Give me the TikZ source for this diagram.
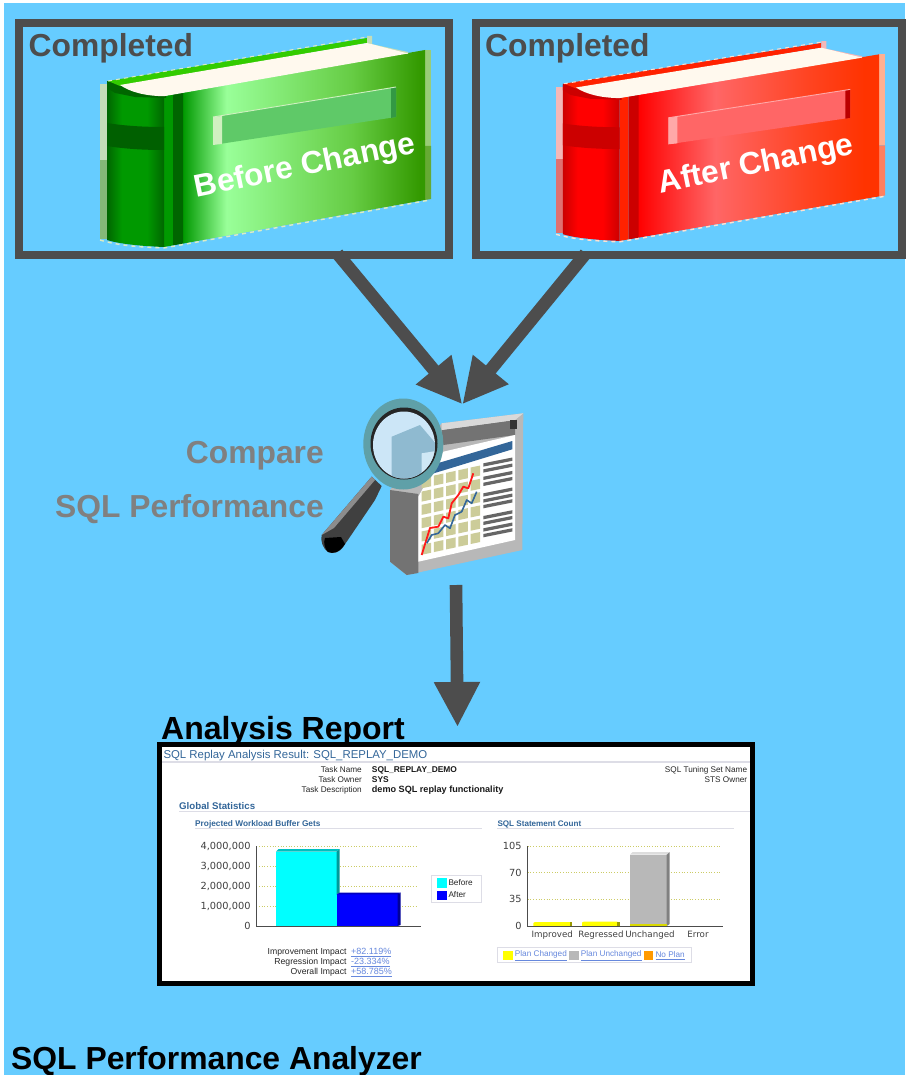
\documentclass[tikz,border=0pt]{standalone}
\usepackage{fontspec}
\setmainfont{Liberation Sans}
\newfontfamily\dejavu{DejaVu Sans}
\usetikzlibrary{arrows.meta,calc}
\definecolor{bgblue}{HTML}{66CCFF}
\definecolor{framegrey}{HTML}{4D4D4D}
\definecolor{labelgrey}{HTML}{808080}
\definecolor{oratitle}{HTML}{336699}
\definecolor{orarule}{HTML}{DDDDE6}
\definecolor{oralink}{HTML}{6688DD}
\definecolor{gridyel}{HTML}{CCCC66}
\definecolor{barCyan}{HTML}{00FFFF}\definecolor{barCyanT}{HTML}{00BFBF}\definecolor{barCyanS}{HTML}{009999}
\definecolor{barBlue}{HTML}{0000FF}\definecolor{barBlueT}{HTML}{0000BF}\definecolor{barBlueS}{HTML}{000099}
\definecolor{barYel}{HTML}{FFFF00}\definecolor{barYelS}{HTML}{999900}\definecolor{barOra}{HTML}{FF9900}
\definecolor{barGrey}{HTML}{B8B8B8}\definecolor{barGreyT}{HTML}{DDDDDD}\definecolor{barGreyS}{HTML}{808080}
\definecolor{paper}{HTML}{FFF9EE}
\definecolor{iconCell}{HTML}{CCCC99}\definecolor{iconRed}{HTML}{FF1A1A}
\definecolor{ringTeal}{HTML}{5FA0A8}\definecolor{lensA}{HTML}{CCE6F7}\definecolor{lensB}{HTML}{8FBAD0}\definecolor{lensC}{HTML}{CFE8F5}
% green book
\definecolor{gPaleA}{HTML}{C5DDB8}\definecolor{gPaleB}{HTML}{85B878}
\definecolor{gSideA}{HTML}{99CC77}\definecolor{gSideB}{HTML}{66AA33}
\definecolor{gHingeA}{HTML}{009900}\definecolor{gHingeB}{HTML}{006600}
\definecolor{gBand}{HTML}{006000}\definecolor{gEdge}{HTML}{33CC00}
\definecolor{gPlate}{HTML}{5FC968}\definecolor{gPlateL}{HTML}{D0F0C0}
\definecolor{gPlateR}{HTML}{339944}\definecolor{gDash}{HTML}{DDEBC4}
\definecolor{gC1}{HTML}{009900}\definecolor{gC2}{HTML}{99FF99}\definecolor{gC3}{HTML}{66CC44}\definecolor{gC4}{HTML}{339900}
\definecolor{gS1}{HTML}{006600}\definecolor{gS2}{HTML}{009900}\definecolor{gS3}{HTML}{006600}
% red book
\definecolor{rPaleA}{HTML}{F4B8B8}\definecolor{rPaleB}{HTML}{E07070}
\definecolor{rSideA}{HTML}{FFB090}\definecolor{rSideB}{HTML}{FF8060}
\definecolor{rHingeA}{HTML}{FF2200}\definecolor{rHingeB}{HTML}{CC0000}
\definecolor{rBand}{HTML}{CC0000}\definecolor{rEdge}{HTML}{FF2200}
\definecolor{rPlate}{HTML}{FF6666}\definecolor{rPlateL}{HTML}{FFA8A8}
\definecolor{rPlateR}{HTML}{BB0000}\definecolor{rDash}{HTML}{FFE0D0}
\definecolor{rC1}{HTML}{FF0000}\definecolor{rC2}{HTML}{FF6666}\definecolor{rC3}{HTML}{FF4422}\definecolor{rC4}{HTML}{FF3300}
\definecolor{rS1}{HTML}{CC0000}\definecolor{rS2}{HTML}{FF0000}\definecolor{rS3}{HTML}{CC0000}
\pgfdeclarehorizontalshading{gcover}{100bp}{color(0bp)=(gC1);color(25bp)=(gC1);color(34bp)=(gC2);color(60bp)=(gC3);color(74bp)=(gC4);color(100bp)=(gC4)}
\pgfdeclarehorizontalshading{rcover}{100bp}{color(0bp)=(rC1);color(25bp)=(rC1);color(41bp)=(rC2);color(60bp)=(rC3);color(72bp)=(rC4);color(100bp)=(rC4)}
\pgfdeclarehorizontalshading{gspine}{100bp}{color(0bp)=(gS1);color(25bp)=(gS1);color(38bp)=(gS2);color(60bp)=(gS2);color(75bp)=(gS3);color(100bp)=(gS3)}
\pgfdeclarehorizontalshading{rspine}{100bp}{color(0bp)=(rS1);color(25bp)=(rS1);color(38bp)=(rS2);color(60bp)=(rS2);color(75bp)=(rS3);color(100bp)=(rS3)}
\newcommand{\bookart}[1]{%
  \fill[#1PaleA] (100,84) rectangle (107,160);
  \fill[#1PaleB] (100,160) rectangle (107,239);
  \fill[#1SideA] (425,50) -- (431,50) -- (431,146) -- (425,146) -- cycle;
  \fill[#1SideB] (425,146) -- (431,146) -- (431,199) -- (425,200) -- cycle;
  \shade[shading=#1cover] (183,92.6) -- (425,50) -- (425,200) -- (183,243.6) -- cycle;
  \fill[#1HingeA] (164,96) -- (173,94.4) -- (173,245.4) -- (164,247) -- cycle;
  \fill[#1HingeB] (173,94.4) -- (183,92.6) -- (183,243.6) -- (173,245.4) -- cycle;
  \shade[shading=#1spine] (107,82) .. controls (112,92) and (135,96) .. (164,96) -- (164,247) .. controls (140,246) and (120,244) .. (107,240) -- cycle;
  \fill[#1HingeB] (107,81) -- (122,84) -- (166,95) -- (166,98) -- (135,97) -- (115,93) -- (107,88) -- cycle;
  \fill[#1Band] (107,123) .. controls (125,126) and (145,127) .. (164,127) -- (164,150) .. controls (145,150) and (125,149) .. (107,146) -- cycle;
  \fill[#1Edge] (108,81) -- (367,38) -- (367,43) -- (120,86) -- cycle;
  \fill[#1PaleA] (367,36) -- (372,36) -- (372,45) -- (367,43) -- cycle;
  \fill[#1PaleA] (367,43) -- (408,52) -- (408,54) -- (367,46) -- cycle;
  \fill[paper] (120,85) -- (367,43) -- (408,53.5) -- (164,96.2) .. controls (145,96) and (130,92) .. (120,85) -- cycle;
  \fill[#1Plate] (213,117) -- (396,87) -- (396,117) -- (213,145) -- cycle;
  \fill[#1PlateL] (213,117) -- (222,116) -- (222,144) -- (213,145) -- cycle;
  \fill[#1PlateR] (391,88) -- (396,87) -- (396,117) -- (391,118) -- cycle;
  \draw[#1PlateL,line width=.9] (213,117) -- (396,87);
  \draw[#1Dash,line width=1.4,dash pattern=on 4pt off 4pt] (100,240) .. controls (120,246) and (140,247) .. (164,248) -- (430,200);
  \draw[#1Dash,line width=1,dash pattern=on 4pt off 4pt] (108,81) -- (367,37);
}
\tikzset{
  heading/.style={font=\fontsize{31.8}{34}\selectfont\bfseries,inner sep=0pt,anchor=base west},
  bookText/.style={text=white,inner sep=0pt,anchor=base,rotate=11.5,font=\fontsize{31.6}{34}\selectfont\bfseries},
  frameBox/.style={draw=framegrey,line width=8pt,outer sep=0pt,inner sep=0pt},
  flow/.style={draw=framegrey,line width=12.6pt,-{Triangle[length=45pt,width=43pt]}},
  ghost/.style={inner sep=0pt,outer sep=0pt},
  tinyR/.style={font=\fontsize{8.2}{9}\selectfont,inner sep=0pt,anchor=east,text=black!85},
  tinyI/.style={font=\fontsize{8.65}{9}\selectfont,inner sep=0pt,anchor=east,text=black!85},
  tinyB/.style={font=\fontsize{8.4}{9}\selectfont\bfseries,inner sep=0pt,anchor=west,text=black!90},
  secH/.style={inner sep=0pt,anchor=west,text=oratitle},
  axisL/.style={font=\dejavu\fontsize{9.8}{10}\selectfont,inner sep=0pt,text=black!75},
  catL/.style={font=\dejavu\fontsize{8.7}{10}\selectfont,inner sep=0pt,anchor=base,text=black!75},
  linkT/.style={font=\fontsize{8.2}{9}\selectfont,inner sep=0pt,anchor=west,text=oralink},
  linkI/.style={font=\fontsize{9}{9}\selectfont,inner sep=0pt,anchor=west,text=oralink},
  ruleL/.style={draw=orarule,line width=1.4pt},
  gridL/.style={draw=gridyel,line width=.7pt,dotted},
  axisLine/.style={draw=black!70,line width=1pt},
}
\begin{document}
\begin{tikzpicture}[x=1pt,y=-1pt]
\useasboundingbox (0,0) rectangle (905,1075);
\fill[white] (0,0) rectangle (905,1075);
\fill[bgblue] (3.5,3) rectangle (905,1075);

% books
\begin{scope}\bookart{g}\end{scope}
\begin{scope}[shift={(456.6,7)},xscale=.994,yscale=.947]\bookart{r}\end{scope}
\node[bookText] (beforeLabel) at (307,175) {Before Change};
\node[bookText] (afterLabel) at (758,173.3) {After Change};

% frames
\node[frameBox,minimum width=430pt,minimum height=232pt] (before) at (234,139) {};
\node[frameBox,minimum width=426pt,minimum height=232pt] (after) at (689,139) {};
\node[heading,text=framegrey] (doneA) at (28.5,57) {Completed};
\node[heading,text=framegrey] (doneB) at (485,57) {Completed};

% compare labels
\node[heading,text=labelgrey,anchor=base east] (cmpA) at (324,463) {Compare};
\node[heading,text=labelgrey,anchor=base east] (cmpB) at (324,517) {SQL Performance};

% magnifier + report icon
\node[ghost,minimum width=202pt,minimum height=178pt] (compare) at (423,487) {};
\fill[black!28] (441.7,423.3) -- (523.3,413.3) -- (522.3,550) -- (406.7,575) -- (390,561.7) -- (390,490) -- cycle;
\fill[black!55] (390,490) -- (418.3,494) -- (418.3,573) -- (406.7,575) -- (390,561.7) -- cycle;
\fill[black!55] (441.7,430) -- (515,420) -- (515,435) -- (443.3,445) -- cycle;
\fill[black!15] (441.7,423.3) -- (523.3,413.3) -- (515,420) -- (441.7,430) -- cycle;
\fill[black!80] (510,420) rectangle (517.3,429.3);
\fill[white] (418.3,496.7) -- (443.3,451.7) -- (515,435) -- (515,540) -- (418.3,561.7) -- cycle;
\fill[oratitle] (425,467) -- (512.3,441) -- (512.3,449.3) -- (425,476) -- cycle;
\foreach \c in {0,...,4}{\foreach \r in {0,...,5}{
  \fill[iconCell] ($(421.5,478.3)+(\c*12.3,-\c*2.7)+(0,\r*13.3)$) -- ++(9.5,-2) -- ++(0,10) -- ++(-9.5,2) -- cycle;
}}
\foreach \yy in {463.3,469.3,476.7,482.7,493.3,499.3,505,516,521.7,528.3,534}{
  \fill[black!60] (483.3,\yy) -- (512.3,{\yy-5.8}) -- (512.3,{\yy-2.5}) -- (483.3,{\yy+3.3}) -- cycle;
}
\draw[iconRed,line width=1.8pt,line join=round] (421.7,555) -- (430,528) -- (438.3,526.7) -- (443.3,516.7) -- (448.3,518.3) -- (451.7,503.3) -- (458.3,495) -- (463.3,486.7) -- (468.3,488.3) -- (473.3,473.3);
\draw[oratitle,line width=1.6pt,line join=round] (426.7,543.3) -- (431.7,535) -- (438.3,533.3) -- (445,525) -- (450,528.3) -- (455,515) -- (461.7,511.7) -- (466.7,500) -- (471.7,503.3) -- (476.7,491.7);
% handle
\fill[black!75] (371.7,476.7) -- (381.7,486) -- (375,500) -- (343.3,546.7) .. controls (339,553) and (333,554) .. (328,552) .. controls (323,549) and (320,540) .. (321.7,535) -- cycle;
\fill[black!45] (371.7,476.7) -- (375,480) -- (334,528) -- (321.7,535) -- cycle;
\fill[black] (325,538) -- (341,537) -- (345,544) .. controls (339,553) and (333,554) .. (328,552) .. controls (325,549) and (323,543) .. (325,538) -- cycle;
% glass
\fill[ringTeal] (403.3,444) ellipse [x radius=40,y radius=45.5];
\fill[black!85] (404,443.5) ellipse [x radius=33.5,y radius=36];
\fill[lensA] (404,445) ellipse [x radius=31,y radius=33.5];
\begin{scope}
\clip (404,445) ellipse [x radius=31,y radius=33.5];
\fill[lensB] (391.7,436.7) -- (420,425) -- (437,445) -- (437,480) -- (391.7,480) -- cycle;
\fill[lensC] (421.7,453.3) -- (436,451) -- (436,470) -- (421.7,476) -- cycle;
\end{scope}

% arrows
\coordinate (beforeOut) at (337.3,253.5);
\coordinate (afterOut) at (585.7,253.5);
\coordinate (compareIn) at (462.3,404.3);
\coordinate (compareOut) at (456,585);
\coordinate (reportIn) at (457.5,727);
\draw[flow] (beforeOut) -- (compareIn);
\draw[flow] (afterOut) -- (compareIn);
\draw[flow] (compareOut) -- (reportIn);

% report
\node[draw=black,fill=white,line width=5pt,outer sep=0pt,inner sep=0pt,minimum width=593pt,minimum height=239pt] (report) at (456,863.8) {};
\node[heading,text=black,font=\fontsize{32}{34}\selectfont\bfseries] (reportTitle) at (161,739.5) {Analysis Report};
\node[secH,font=\fontsize{11.4}{12}\selectfont] (rT) at (163.3,755.5) {SQL Replay Analysis Result: SQL\_REPLAY\_DEMO};
\draw[ruleL] (162,762) -- (750,762);
\node[tinyR] (t1) at (362,770) {Task Name};
\node[tinyR] (t2) at (362,780) {Task Owner};
\node[tinyR] (t3) at (362,790) {Task Description};
\node[tinyB] (v1) at (371.7,770) {SQL\_REPLAY\_DEMO};
\node[tinyB] (v2) at (371.7,780) {SYS};
\node[tinyB,font=\fontsize{9.1}{9}\selectfont\bfseries] (v3) at (371.7,790) {demo SQL replay functionality};
\node[tinyR] (s1) at (747.3,770) {SQL Tuning Set Name};
\node[tinyR] (s2) at (747.3,780) {STS Owner};
\node[secH,font=\fontsize{9.7}{10}\selectfont\bfseries] (gs) at (179,806) {Global Statistics};
\draw[ruleL] (179,811.3) -- (750,811.3);
\node[secH,font=\fontsize{8.3}{9}\selectfont\bfseries] (h1) at (195,824) {Projected Workload Buffer Gets};
\draw[ruleL] (195,828.7) -- (481.7,828.7);
\node[secH,font=\fontsize{8.1}{9}\selectfont\bfseries] (h2) at (497.3,824) {SQL Statement Count};
\draw[ruleL] (497.3,828.7) -- (734,828.7);

% chart 1
\foreach \yy in {846,866,886,906}{\draw[gridL] (256.3,\yy) -- (418,\yy);}
\foreach \yy/\lab in {846/{4,000,000},866/{3,000,000},886/{2,000,000},906/{1,000,000},926/0}{\node[axisL,anchor=east] at (250.7,\yy) {\lab};}
\fill[barCyan] (276,851.7) rectangle (336.7,926);
\fill[barCyanT] (276,851.7) -- (278.5,849) -- (339.6,849) -- (336.7,851.7) -- cycle;
\fill[barCyanS] (336.7,851.7) -- (339.6,849) -- (339.6,892.7) -- (336.7,894.3) -- cycle;
\fill[barBlue] (336.7,894.3) rectangle (397.7,926);
\fill[barBlueT] (336.7,894.3) -- (339.6,892.7) -- (400.7,892.7) -- (397.7,894.3) -- cycle;
\fill[barBlueS] (397.7,894.3) -- (400.7,892.7) -- (400.7,925) -- (397.7,926) -- cycle;
\draw[axisLine] (256.3,846) -- (256.3,926) -- (421,926);
\node[draw=orarule,line width=.8pt,minimum width=50pt,minimum height=27.7pt,inner sep=0pt] (leg1) at (456.7,888.8) {};
\fill[barCyan] (437,877.7) rectangle (446.5,887.7);
\fill[barBlue] (437,890.7) rectangle (446.5,900);
\node[tinyR,anchor=west] (lb) at (448.3,883) {Before};
\node[tinyR,anchor=west] (la) at (448.3,895) {After};
\node[tinyI] (i1) at (346.7,952.7) {Improvement Impact};
\node[tinyI] (i2) at (346.7,962.7) {Regression Impact};
\node[tinyI] (i3) at (346.7,972.7) {Overall Impact};
\node[linkI] (p1) at (351,952.7) {\underline{+82.119\%}};
\node[linkI] (p2) at (351,962.7) {\underline{-23.334\%}};
\node[linkI] (p3) at (351,972.7) {\underline{+58.785\%}};

% chart 2
\foreach \yy in {846,872.7,899.3}{\draw[gridL] (527.7,\yy) -- (722,\yy);}
\foreach \yy/\lab in {846/105,872.7/70,899.3/35,926/0}{\node[axisL,anchor=east] at (521.7,\yy) {\lab};}
\fill[barYel] (533.3,923) -- (535,922) -- (570,922) -- (570,926) -- (533.3,926) -- cycle;
\fill[barYelS] (570,922) -- (571.7,922) -- (571.7,926) -- (570,926) -- cycle;
\fill[barYel] (582,922.5) -- (584,921.5) -- (617.3,921.5) -- (617.3,926) -- (582,926) -- cycle;
\fill[barYelS] (617.3,921.5) -- (619.5,921.5) -- (619.5,926) -- (617.3,926) -- cycle;
\fill[barGrey] (630,854.7) rectangle (666.7,926);
\fill[barGreyT] (630,854.7) -- (632.5,852.2) -- (669.7,852.2) -- (666.7,854.7) -- cycle;
\fill[barGreyS] (666.7,854.7) -- (669.7,852.2) -- (669.7,924) -- (666.7,926) -- cycle;
\fill[barYel!85!black] (630,924) rectangle (666.7,926);
\draw[axisLine] (527.7,846) -- (527.7,926) -- (723,926);
\node[catL] (c1) at (552.3,937.7) {Improved};
\node[catL] (c2) at (601,937.7) {Regressed};
\node[catL] (c3) at (650,937.7) {Unchanged};
\node[catL] (c4) at (698,937.7) {Error};
\node[draw=orarule,line width=.8pt,minimum width=194.4pt,minimum height=15.3pt,inner sep=0pt] (leg2) at (594.5,954.7) {};
\fill[barYel] (503.3,950.7) rectangle (512.7,960);
\fill[barGrey] (569.3,950.7) rectangle (578.7,960);
\fill[barOra] (644,950.7) rectangle (653.3,960);
\node[linkT] (k1) at (514.7,955.5) {\underline{Plan Changed}};
\node[linkT] (k2) at (580.7,955.5) {\underline{Plan Unchanged}};
\node[linkT] (k3) at (655.3,955.5) {\underline{No Plan}};

\node[heading,text=black,font=\fontsize{31.85}{34}\selectfont\bfseries] (caption) at (11,1069) {SQL Performance Analyzer};
\end{tikzpicture}
\end{document}
